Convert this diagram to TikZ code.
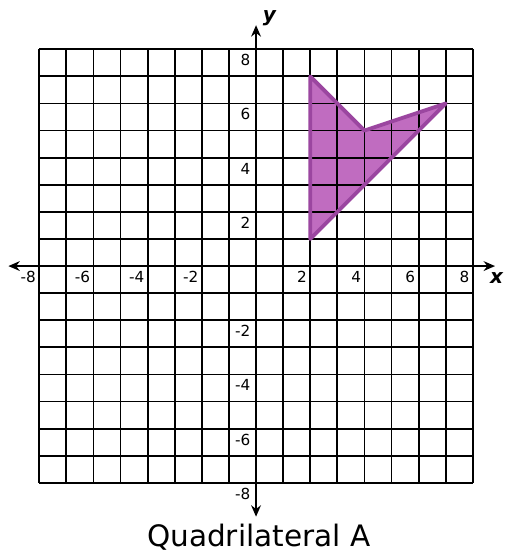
\documentclass[tikz,border=0pt]{standalone}
\usepackage{fontspec}
\setmainfont{DejaVu Sans}
\usetikzlibrary{arrows.meta}

\definecolor{quadfill}{RGB}{192,108,192}
\definecolor{quadline}{RGB}{155,70,160}

\begin{document}
\begin{tikzpicture}[
    ticklabel/.style={font=\fontsize{16}{16}\selectfont, inner sep=0pt},
    axislabel/.style={font=\fontsize{21}{21}\selectfont\bfseries\itshape, inner sep=0pt},
    axis/.style={line width=3pt, {Stealth[length=0.42cm,width=0.36cm]}-{Stealth[length=0.42cm,width=0.36cm]}},
    quad/.style={draw=quadline, line width=4pt, line join=round}
  ]
  \useasboundingbox (-9.45,-10.59) rectangle (9.19,9.82);

  % Vertices
  \coordinate (qa) at (2,7);
  \coordinate (qb) at (4,5);
  \coordinate (qc) at (7,6);
  \coordinate (qd) at (2,1);
  \fill[quadfill] (qa) -- (qb) -- (qc) -- (qd) -- cycle;

  % Grid
  \draw[line width=1.9pt] (-8,-8) grid (8,8);

  % Axes
  \coordinate (xmin) at (-9.14,0);
  \coordinate (xmax) at (8.82,0);
  \coordinate (ymin) at (0,-9.25);
  \coordinate (ymax) at (0,8.89);
  \draw[axis] (xmin) -- (xmax);
  \draw[axis] (ymin) -- (ymax);
  \node[axislabel] (xlab) at (8.88,-0.45) {x};
  \node[axislabel] (ylab) at (0.49,9.14) {y};

  % Ticks
  \foreach \i in {-8,-6,-4,-2,2,4,6,8} {
    \node[ticklabel, anchor=east] (xt\i) at (\i-0.12,-0.4) {\i};
    \node[ticklabel, anchor=east] (yt\i) at (-0.2,\i-0.4) {\i};
  }

  \draw[quad] (qa) -- (qb) -- (qc) -- (qd) -- cycle;

  \node[font=\fontsize{31}{31}\selectfont, anchor=base] (caption) at (0.1,-10.34) {Quadrilateral A};
\end{tikzpicture}
\end{document}
